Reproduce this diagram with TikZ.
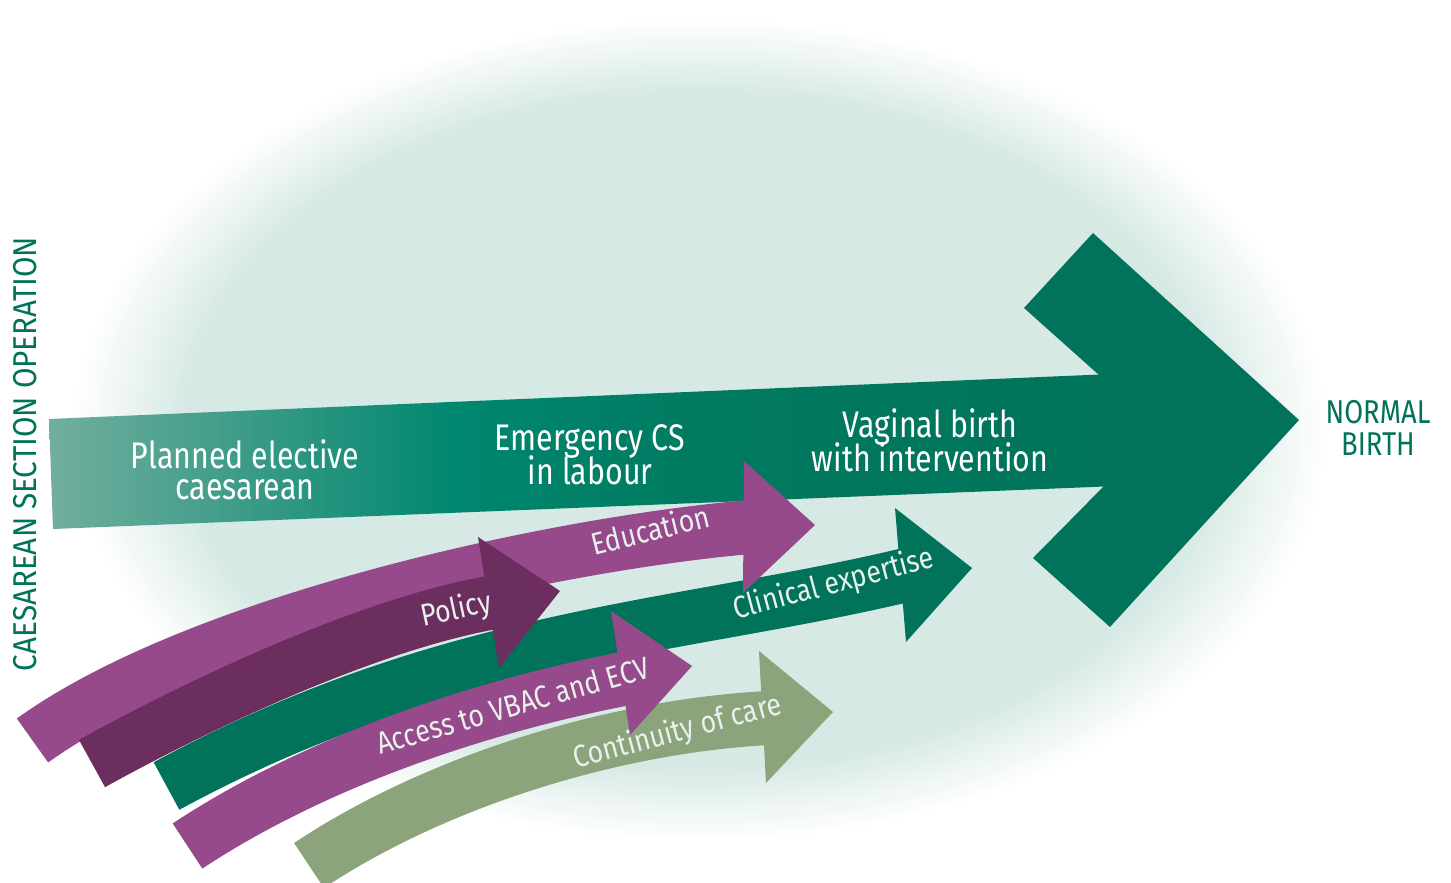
\documentclass[tikz,border=0pt]{standalone}
\usepackage{fontspec}
\setmainfont{Fira Sans}
\definecolor{bgteal}{RGB}{214,233,228}
\definecolor{mgreen}{RGB}{0,115,90}
\definecolor{sh1}{RGB}{114,174,158}
\definecolor{sh2}{RGB}{0,135,111}
\definecolor{sh3}{RGB}{0,122,96}
\definecolor{sh4}{RGB}{0,115,90}
\definecolor{purp}{RGB}{150,74,139}
\definecolor{dpurp}{RGB}{108,46,95}
\definecolor{olive}{RGB}{139,164,124}
\definecolor{ltxt}{RGB}{232,241,236}
\pgfdeclarehorizontalshading{mainshaft}{100bp}{color(0bp)=(sh1); color(25bp)=(sh1); color(44bp)=(sh2); color(56bp)=(sh3); color(75bp)=(sh4); color(100bp)=(sh4)}
\tikzset{
  band/.style={line width=54, line cap=butt},
  mainlbl/.style={text=white, font=\fontsize{37}{37}\selectfont, anchor=base, inner sep=0pt, xscale=0.82},
  arrlbl/.style={text=ltxt, font=\fontsize{31}{31}\selectfont, anchor=base, inner sep=0pt},
  sidelbl/.style={text=mgreen, font=\fontsize{33}{33}\selectfont, anchor=base, inner sep=0pt}
}
\begin{document}
\begin{tikzpicture}[x=1pt,y=-1pt]
\useasboundingbox (0,0) rectangle (1451,883);
% soft background ellipse
\foreach \i in {0,...,30}{
  \pgfmathsetmacro{\s}{1-0.18*\i/30}
  \pgfmathsetmacro{\p}{100*\i/30}
  \fill[bgteal!\p!white] (700,430) ellipse [x radius={628*\s}, y radius={412*\s}];
}
% main arrow
\path[shading=mainshaft] (49,419) -- (1112,374) -- (1117,486) -- (53,529) -- cycle;
\fill[mgreen] (1099,375) -- (1024,308) -- (1093,233) -- (1299,420) -- (1110,627) -- (1033,558) -- (1104,486) -- cycle;
\node[mainlbl] (pe1) at (245,468) {Planned elective};
\node[mainlbl] (pe2) at (245,499) {caesarean};
\node[mainlbl] (em1) at (590,450) {Emergency CS};
\node[mainlbl] (em2) at (590,484) {in labour};
\node[mainlbl] (vb1) at (930,437) {Vaginal birth};
\node[mainlbl] (vb2) at (930,471) {with intervention};
\node[sidelbl, xscale=0.83] (nb1) at (1378,423) {NORMAL};
\node[sidelbl, xscale=0.83] (nb2) at (1378,455) {BIRTH};
\node[sidelbl, rotate=90, xscale=0.9, anchor=center] (cs) at (25,454) {CAESAREAN SECTION OPERATION};
% Clinical expertise
\coordinate (clT) at (166.5,786);
\coordinate (clE) at (908,574.5);
\draw[band, mgreen] (clT) .. controls (447.8,633.4) and (677.9,629.6) .. (clE);
\fill[mgreen] (895,508) -- (972,568) -- (906,642) -- cycle;
% Continuity of care
\coordinate (coT) at (309,865.5);
\coordinate (coE) at (768,718);
\draw[band, olive] (coT) .. controls (433.8,782.3) and (611.7,726.3) .. (coE);
\fill[olive] (759,651) -- (833,712) -- (766,783) -- cycle;
% Access to VBAC and ECV
\coordinate (ecT) at (187.5,846);
\coordinate (ecE) at (628,678);
\draw[band, purp] (ecT) .. controls (312.7,763.4) and (474.2,707.6) .. (ecE);
\fill[purp] (611,611) -- (692,666) -- (630,735) -- cycle;
% Education
\coordinate (edT) at (32.5,740.5);
\coordinate (edE) at (750,527);
\draw[band, purp] (edT) .. controls (194.7,623.5) and (543.8,545) .. (edE);
\fill[purp] (744,461) -- (815,525) -- (743,593) -- cycle;
% Policy
\coordinate (poT) at (92,763.5);
\coordinate (poE) at (495,602);
\draw[band, dpurp] (poT) .. controls (197,705.3) and (369.2,623.5) .. (poE);
\fill[dpurp] (478,537) -- (560,591) -- (499,668) -- cycle;
% labels on arrows
\node[arrlbl, rotate=14, xscale=0.86] (led) at (653,541) {Education};
\node[arrlbl, rotate=12, xscale=0.86] (lpo) at (458,619) {Policy};
\node[arrlbl, rotate=15, xscale=0.86] (lcl) at (836,593) {Clinical expertise};
\node[arrlbl, rotate=16, xscale=0.86] (lec) at (516,716) {Access to VBAC and ECV};
\node[arrlbl, rotate=15, xscale=0.86] (lco) at (680,741) {Continuity of care};
\end{tikzpicture}
\end{document}
